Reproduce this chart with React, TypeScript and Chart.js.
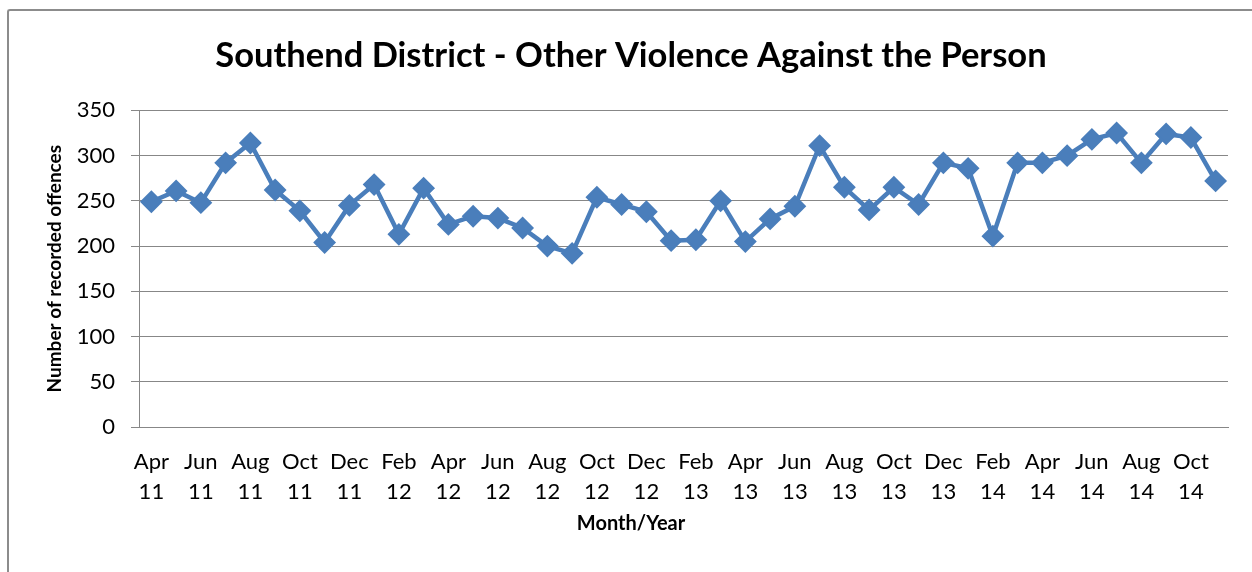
import React, { useEffect, useRef } from "react";
import { Chart, registerables } from "chart.js";

Chart.register(...registerables);

const titleText = "Southend District - Other Violence Against the Person";
const yAxisTitle = "Number of recorded offences";
const xAxisTitle = "Month/Year";

const months = [
  "Apr 11", "May 11", "Jun 11", "Jul 11", "Aug 11", "Sep 11", "Oct 11", "Nov 11", "Dec 11", "Jan 12", "Feb 12", "Mar 12",
  "Apr 12", "May 12", "Jun 12", "Jul 12", "Aug 12", "Sep 12", "Oct 12", "Nov 12", "Dec 12", "Jan 13", "Feb 13", "Mar 13",
  "Apr 13", "May 13", "Jun 13", "Jul 13", "Aug 13", "Sep 13", "Oct 13", "Nov 13", "Dec 13", "Jan 14", "Feb 14", "Mar 14",
  "Apr 14", "May 14", "Jun 14", "Jul 14", "Aug 14", "Sep 14", "Oct 14", "Nov 14",
];

const offences = [
  249, 261, 248, 292, 314, 262, 239, 204, 245, 268, 213, 264,
  224, 233, 231, 220, 200, 192, 254, 246, 238, 206, 207, 250,
  205, 230, 244, 311, 265, 240, 265, 246, 292, 286, 211, 292,
  292, 300, 318, 325, 292, 324, 320, 272,
];

const yMin = 0;
const yMax = 350;
const yStep = 50;

const FONT = "Lato, 'Liberation Sans', sans-serif";
const LINE_COLOR = "#4a7ebb";
const GRID_COLOR = "#878787";

export default function App() {
  const canvasRef = useRef<HTMLCanvasElement | null>(null);

  useEffect(() => {
    if (!canvasRef.current) return;
    const chart = new Chart(canvasRef.current, {
      type: "line",
      data: {
        labels: months,
        datasets: [
          {
            data: offences,
            yAxisID: "y",
            borderColor: LINE_COLOR,
            backgroundColor: LINE_COLOR,
            borderWidth: 4.5,
            tension: 0,
            pointStyle: "rectRot",
            pointRadius: 10,
            pointBorderWidth: 2,
            pointBackgroundColor: LINE_COLOR,
            pointBorderColor: LINE_COLOR,
          },
        ],
      },
      options: {
        responsive: false,
        animation: false,
        layout: { padding: 0 },
        plugins: {
          legend: { display: false },
          tooltip: { enabled: false },
          title: {
            display: true,
            text: titleText,
            color: "#000",
            font: { family: FONT, size: 34.5, weight: "bold", lineHeight: 1.2 },
            padding: { top: 24, bottom: 34 },
          },
          subtitle: {
            display: true,
            position: "bottom",
            text: xAxisTitle,
            color: "#000",
            font: { family: FONT, size: 20, weight: "bold", lineHeight: 1.2 },
            padding: { top: 4, bottom: 36 },
          },
        },
        scales: {
          x: {
            type: "category",
            offset: true,
            grid: { display: false, drawTicks: false },
            border: { display: true, color: GRID_COLOR, width: 1 },
            ticks: {
              autoSkip: false,
              maxRotation: 0,
              minRotation: 0,
              padding: 20,
              color: "#000",
              font: { family: FONT, size: 22, lineHeight: 1.36 },
              callback: function (_v: any, index: number) {
                if (index % 2 !== 0) return "";
                return months[index].split(" ");
              },
            },
            afterFit: (scale: any) => {
              scale.height = 81;
            },
          },
          y: {
            min: yMin,
            max: yMax,
            ticks: {
              stepSize: yStep,
              padding: 16,
              color: "#000",
              font: { family: FONT, size: 22 },
            },
            grid: {
              color: GRID_COLOR,
              lineWidth: 1,
              drawTicks: true,
              tickLength: 8,
            },
            border: { display: true, color: GRID_COLOR, width: 1 },
            title: {
              display: true,
              text: yAxisTitle,
              color: "#000",
              font: { family: FONT, size: 19, weight: "bold", lineHeight: 1.2 },
              padding: { top: 34, bottom: 0 },
            },
            afterFit: (scale: any) => {
              scale.width = 130;
            },
          },
          yRight: {
            type: "linear",
            position: "right",
            display: true,
            min: yMin,
            max: yMax,
            ticks: { display: false },
            grid: { display: false, drawTicks: false },
            border: { display: false },
            afterFit: (scale: any) => {
              scale.width = 25;
            },
          },
        },
      },
    });
    return () => chart.destroy();
  }, []);

  return (
    <div
      style={{
        position: "absolute",
        left: 7,
        top: 9,
        width: 1245,
        height: 563,
        boxSizing: "border-box",
        overflow: "hidden",
        borderTop: "2px solid #8c8c8c",
        borderLeft: "2px solid #8c8c8c",
        borderTopLeftRadius: 3,
        background: "#fff",
      }}
    >
      <canvas ref={canvasRef} width={1244} height={561} style={{ display: "block" }} />
    </div>
  );
}
